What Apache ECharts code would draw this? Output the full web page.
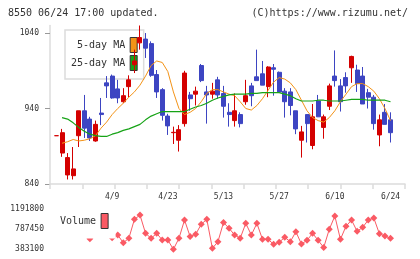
<!DOCTYPE html>
<html>
<head>
<meta charset="utf-8">
<script src="https://cdn.jsdelivr.net/npm/echarts@6/dist/echarts.min.js"></script>
<style>
  html, body { margin: 0; padding: 0; background: #fff; }
  #chart { width: 420px; height: 259px; }
</style>
</head>
<body>
<div id="chart"></div>
<script>
// trading days shown on the chart
var dates = ['3/26', '3/27', '3/28', '3/29', '4/1', '4/2', '4/3', '4/4', '4/5', '4/8',
  '4/9', '4/10', '4/11', '4/12', '4/15', '4/16', '4/17', '4/18', '4/19', '4/22',
  '4/23', '4/25', '4/26', '4/30', '5/1', '5/2', '5/7', '5/8', '5/9', '5/10',
  '5/13', '5/14', '5/15', '5/16', '5/17', '5/20', '5/21', '5/22', '5/23', '5/24',
  '5/27', '5/28', '5/29', '5/30', '5/31', '6/3', '6/4', '6/5', '6/6', '6/7',
  '6/10', '6/11', '6/12', '6/13', '6/14', '6/17', '6/18', '6/19', '6/20', '6/21',
  '6/24'];
var dateLabels = ['4/9', '4/23', '5/13', '5/27', '6/10', '6/24'];

var openPrices = [904, 881, 852, 851, 904, 937, 926, 897, 934, 974,
  983, 966, 949, 969, 998, 1027, 1032, 1026, 985, 965,
  930, 908, 898, 920, 958, 959, 997, 962, 959, 978,
  960, 935, 924, 932, 949, 970, 982, 986, 969, 994,
  988, 963, 962, 937, 898, 932, 891, 950, 915, 943,
  983, 970, 981, 994, 991, 983, 961, 955, 905, 935,
  925];
var closePrices = [904, 908, 875, 860, 937, 914, 901, 919, 932, 970,
  954, 954, 957, 978, 1003, 1034, 1020, 984, 962, 931,
  917, 908.5, 912, 987, 953, 963, 977, 958, 963, 958,
  943, 932, 937, 920, 957, 957, 977, 971, 995, 992,
  962, 949, 944, 913, 909, 920, 929, 929, 929, 970,
  977, 949, 970, 1009, 973, 946, 955, 920, 925, 919,
  908];
var lowPrices = [904, 876, 846, 846, 889, 901, 897, 896, 918, 954,
  953, 947, 947, 955, 987, 1018, 1007, 982, 954, 924,
  905, 893, 883, 916, 937, 944, 975, 920, 953, 953,
  928, 916, 916, 915, 945, 943, 977, 971, 955, 957,
  962, 928, 931, 906, 875, 895, 886, 929, 900, 938,
  969, 936, 961, 974, 962, 946, 940, 912, 890, 919,
  895];
var highPrices = [904, 913, 881, 889, 937, 958, 929, 924, 954, 983,
  985, 978, 967, 984, 1018, 1050, 1040, 1029, 991, 967,
  933, 916, 918, 990, 962, 969, 999, 970, 974, 982,
  970, 947, 960, 935, 978, 974, 1018, 1003, 996, 999,
  989, 967, 967, 937, 917, 932, 946, 958, 932, 973,
  1017, 979, 988, 1010, 998, 995, 966, 958, 932, 946,
  935];

var ma5 = [null, 894, 896, 899, 897, 898, 900, 904, 914, 922,
  932, 940, 947, 955, 962, 971, 983, 997, 1003, 1001,
  989, 962, 940, 932, 935, 940, 949, 960, 965, 965,
  962, 959, 957, 949, 940, 938, 944, 953, 964, 975,
  981, 979, 974, 965, 951, 937, 928, 924, 922, 928,
  937, 949, 959, 969, 973, 973, 969, 963, 953, 940,
  924];
var ma25 = [null, 928, 926, 921, 915, 910, 906, 904, 903, 903,
  906, 908, 911, 913, 916, 919, 925, 930, 933, 936,
  936, 936, 936, 936, 939, 942, 944, 947, 951, 954,
  956, 958, 959, 959, 959, 960, 960, 961, 961, 961,
  961, 959, 957, 953, 950, 950, 950, 951, 951, 950,
  950, 950, 951, 952, 952, 952, 951, 951, 951, 951,
  949];

// points hidden behind the legend box are left empty
var volumes = [null, null, null, null, null, null, 595000, null, null, null,
  615000, 668000, 514000, 602000, 980000, 1066000, 701000, 602000, 701000, 568000,
  568000, 383000, 602000, 966000, 638000, 682000, 881000, 980000, 403000, 534000,
  916000, 801000, 668000, 602000, 900000, 668000, 900000, 582000, 582000, 484000,
  522000, 622000, 534000, 733000, 488000, 562000, 701000, 562000, 419000, 781000,
  1046000, 582000, 841000, 966000, 741000, 821000, 966000, 1006000, 693000, 648000,
  602000];

var priceTicks = [840, 940, 1040];
var volumeTicks = [383100, 787450, 1191800];

var candles = dates.map(function (d, i) {
  return [openPrices[i], closePrices[i], lowPrices[i], highPrices[i]];
});

var mono = 'DejaVu Sans Mono';
var axisGray = '#dcdcdc';
var upRed = '#d40000';
var downBlue = '#3d45c2';
var plain = function (v) { return String(v); };

var chart = echarts.init(document.getElementById('chart'));
chart.setOption({
  animation: false,
  backgroundColor: '#fff',
  graphic: [
    { type: 'text', x: 8, y: 13.5, style: { text: '8550 06/24 17:00 updated.', font: '10px "DejaVu Sans Mono"', fill: '#333', verticalAlign: 'middle' } },
    { type: 'text', x: 408, y: 13.5, style: { text: '(C)https://www.rizumu.net/', font: '10px "DejaVu Sans Mono"', fill: '#333', align: 'right', verticalAlign: 'middle' } }
  ],
  legend: [{
    data: [{ name: '5-day MA', icon: 'rect' }, { name: '25-day MA', icon: 'rect' }],
    orient: 'vertical',
    align: 'right',
    left: 65,
    top: 30,
    itemWidth: 7,
    itemHeight: 15,
    itemGap: 2,
    padding: [7, 6, 8, 6],
    backgroundColor: '#fff',
    borderColor: axisGray,
    borderWidth: 1.5,
    itemStyle: { borderColor: '#333', borderWidth: 1 },
    textStyle: { fontFamily: mono, fontSize: 10, color: '#333' },
    selectedMode: false,
    z: 1
  }, {
    data: [{ name: 'Volume', icon: 'rect' }],
    orient: 'horizontal',
    align: 'right',
    left: 54,
    top: 205,
    itemWidth: 7,
    itemHeight: 15,
    padding: [8, 7, 9.5, 6],
    backgroundColor: '#fff',
    borderWidth: 0,
    itemStyle: { borderColor: '#333', borderWidth: 1 },
    textStyle: { fontFamily: mono, fontSize: 10, color: '#333' },
    selectedMode: false,
    z: 5
  }],
  grid: [
    { left: 50, right: 15, top: 25.5, height: 158.5 },
    { left: 53.7, right: 26.7, top: 25.5, height: 158.5 },
    { left: 53.7, right: 26.7, top: 208.7, height: 40.6 }
  ],
  xAxis: [{
    gridIndex: 0,
    type: 'value',
    min: 0,
    max: 11,
    interval: 1,
    axisLine: { lineStyle: { color: axisGray, width: 1.5 } },
    axisTick: { length: 5, lineStyle: { color: axisGray, width: 1.5 } },
    axisLabel: { show: false },
    splitLine: { show: false }
  }, {
    gridIndex: 1,
    type: 'category',
    data: dates,
    boundaryGap: true,
    axisLine: { show: false },
    axisTick: { show: false },
    axisLabel: {
      interval: function (index, value) { return dateLabels.indexOf(value) >= 0; },
      margin: 9,
      fontFamily: mono,
      fontSize: 8,
      color: '#333'
    },
    splitLine: { show: false }
  }, {
    gridIndex: 2,
    type: 'category',
    data: dates,
    boundaryGap: true,
    show: false
  }],
  yAxis: [{
    gridIndex: 0,
    type: 'value',
    min: 840,
    max: 1050,
    axisLine: { show: true, lineStyle: { color: axisGray, width: 1.5 } },
    axisTick: { show: true, length: 5, customValues: priceTicks, lineStyle: { color: '#999' } },
    axisLabel: { customValues: priceTicks, formatter: plain, margin: 11, fontFamily: mono, fontSize: 8, color: '#333' },
    splitLine: { show: false }
  }, {
    gridIndex: 1,
    type: 'value',
    min: 840,
    max: 1050,
    show: false
  }, {
    gridIndex: 2,
    type: 'value',
    min: 383100,
    max: 1191800,
    axisLine: { show: false },
    axisTick: { show: false },
    axisLabel: { customValues: volumeTicks, formatter: plain, margin: 9.7, fontFamily: mono, fontSize: 8, color: '#333' },
    splitLine: { show: false }
  }],
  series: [{
    name: '5-day MA',
    type: 'line',
    xAxisIndex: 1,
    yAxisIndex: 1,
    data: ma5,
    symbol: 'none',
    lineStyle: { color: '#f39317', width: 1 },
    itemStyle: { color: '#f39317' }
  }, {
    name: '25-day MA',
    type: 'line',
    xAxisIndex: 1,
    yAxisIndex: 1,
    data: ma25,
    symbol: 'none',
    lineStyle: { color: '#16a316', width: 1.2 },
    itemStyle: { color: '#16a316' }
  }, {
    name: 'Price',
    type: 'candlestick',
    xAxisIndex: 1,
    yAxisIndex: 1,
    data: candles,
    barWidth: 4.5,
    itemStyle: {
      color: upRed,
      color0: downBlue,
      borderColor: upRed,
      borderColor0: downBlue,
      borderColorDoji: upRed,
      borderWidth: 1
    }
  }, {
    name: 'Volume',
    type: 'line',
    xAxisIndex: 2,
    yAxisIndex: 2,
    data: volumes,
    symbol: 'diamond',
    symbolSize: 7,
    showAllSymbol: true,
    connectNulls: false,
    clip: false,
    lineStyle: { color: '#fa5a64', width: 1 },
    itemStyle: { color: '#fa5a64' }
  }]
});
</script>
</body>
</html>
